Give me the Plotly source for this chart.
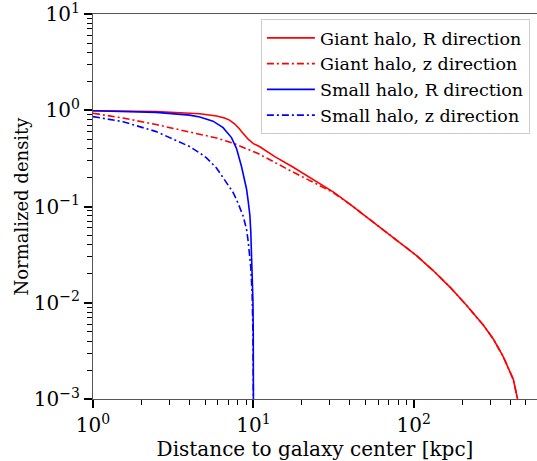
import plotly.graph_objects as go

# Giant halo, R direction
giant_R_x = [1.0, 1.5, 2.48, 4.0, 4.63, 5.9, 6.6, 7.1, 7.66, 8.2, 8.43, 9.27, 10.0, 10.9, 13.6, 17.3,
             21.9, 24.7, 31.4, 39.9, 50.8, 64.4, 81.9, 104, 132, 168, 213, 271, 313, 361, 417, 438, 450]
giant_R_y = [0.99, 0.985, 0.97, 0.93, 0.92, 0.87, 0.83, 0.79, 0.72, 0.64, 0.60, 0.50, 0.45, 0.42, 0.33, 0.262,
             0.205, 0.182, 0.142, 0.106, 0.0775, 0.0583, 0.0424, 0.0309, 0.0216, 0.01455, 0.0094, 0.00586,
             0.0042, 0.00275, 0.0016, 0.00115, 0.00089]

# Giant halo, z direction
giant_z_x = [1.0, 1.54, 2.48, 4.0, 5.9, 7.47, 10.7, 17.3, 24.7, 31.4, 39.9, 50.8, 64.4, 81.9, 104, 132, 168,
             213, 271, 313, 361, 417, 438, 450]
giant_z_y = [0.93, 0.83, 0.71, 0.595, 0.515, 0.455, 0.355, 0.232, 0.170, 0.140, 0.106, 0.0775, 0.0583, 0.0424,
             0.0309, 0.0216, 0.01455, 0.0094, 0.00586, 0.0042, 0.00275, 0.0016, 0.00115, 0.00089]

# Small halo, R direction
small_R_x = [1.0, 2.48, 4.0, 4.63, 5.6, 6.47, 7.3, 7.85, 8.43, 9.06, 9.27, 9.5, 9.63, 9.82, 9.93, 9.98, 10.0]
small_R_y = [0.99, 0.95, 0.89, 0.85, 0.77, 0.66, 0.52, 0.40, 0.26, 0.152, 0.115, 0.082, 0.055, 0.0234, 0.0106, 0.0048, 0.0009]

# Small halo, z direction
small_z_x = [1.0, 1.54, 2.48, 4.0, 4.63, 5.1, 5.9, 6.8, 7.47, 7.85, 8.62, 9.06, 9.27, 9.63, 9.82, 9.93, 10.0]
small_z_y = [0.86, 0.76, 0.60, 0.42, 0.36, 0.32, 0.25, 0.177, 0.14, 0.118, 0.08, 0.058, 0.044, 0.0234, 0.0124, 0.005, 0.0009]

x_tick_vals = [1, 10, 100]
x_tick_text = ["10<sup>0</sup>", "10<sup>1</sup>", "10<sup>2</sup>"]
y_tick_vals = [0.001, 0.01, 0.1, 1, 10]
y_tick_text = ["10<sup>\u22123</sup>", "10<sup>\u22122</sup>", "10<sup>\u22121</sup>", "10<sup>0</sup>", "10<sup>1</sup>"]

x_minor = [m * 10 ** e for e in range(0, 3) for m in range(2, 10)]
y_minor = [m * 10.0 ** e for e in range(-3, 1) for m in range(2, 10)]

FONT = "DejaVu Serif"
dashdot = "7px,3px,2px,3px"

fig = go.Figure()
fig.add_trace(go.Scatter(x=giant_R_x, y=giant_R_y, mode="lines", name="Giant halo, R direction",
                         line=dict(color="#ff0000", width=1.6)))
fig.add_trace(go.Scatter(x=giant_z_x, y=giant_z_y, mode="lines", name="Giant halo, z direction",
                         line=dict(color="#ff0000", width=1.6, dash=dashdot)))
fig.add_trace(go.Scatter(x=small_R_x, y=small_R_y, mode="lines", name="Small halo, R direction",
                         line=dict(color="#0000ff", width=1.6)))
fig.add_trace(go.Scatter(x=small_z_x, y=small_z_y, mode="lines", name="Small halo, z direction",
                         line=dict(color="#0000ff", width=1.6, dash=dashdot)))

fig.update_layout(
    width=537, height=461,
    margin=dict(l=93, r=0, t=12, b=62),
    paper_bgcolor="white", plot_bgcolor="white",
    font=dict(family=FONT, size=16, color="black"),
    showlegend=True,
    legend=dict(x=0.984, y=0.987, xanchor="right", yanchor="top",
                bgcolor="rgba(255,255,255,0.8)", bordercolor="#cccccc", borderwidth=1,
                itemwidth=48,
                font=dict(family=FONT, size=17.5)),
    xaxis=dict(type="log", range=[0, 2.768], showgrid=False, zeroline=False,
               showline=True, linecolor="#555555", linewidth=1.2, mirror=True,
               ticks="outside", ticklen=8, tickwidth=1.6, tickcolor="black",
               tickvals=x_tick_vals, ticktext=x_tick_text,
               tickfont=dict(family=FONT, size=20),
               minor=dict(tickvals=x_minor, ticks="outside", ticklen=5, tickwidth=1, tickcolor="black"),
               title=dict(text="Distance to galaxy center [kpc]", font=dict(family=FONT, size=20), standoff=0)),
    yaxis=dict(type="log", range=[-3.0003, 1.0003], showgrid=False, zeroline=False,
               showline=True, linecolor="#555555", linewidth=1.2, mirror=False,
               ticks="outside", ticklen=8, tickwidth=1.6, tickcolor="black",
               tickvals=y_tick_vals, ticktext=y_tick_text, ticklabeloverflow="allow",
               tickfont=dict(family=FONT, size=20),
               minor=dict(tickvals=y_minor, ticks="outside", ticklen=5, tickwidth=1, tickcolor="black"),
               title=dict(text="Normalized density", font=dict(family=FONT, size=18), standoff=0)),
)

fig.write_html("out.html")
